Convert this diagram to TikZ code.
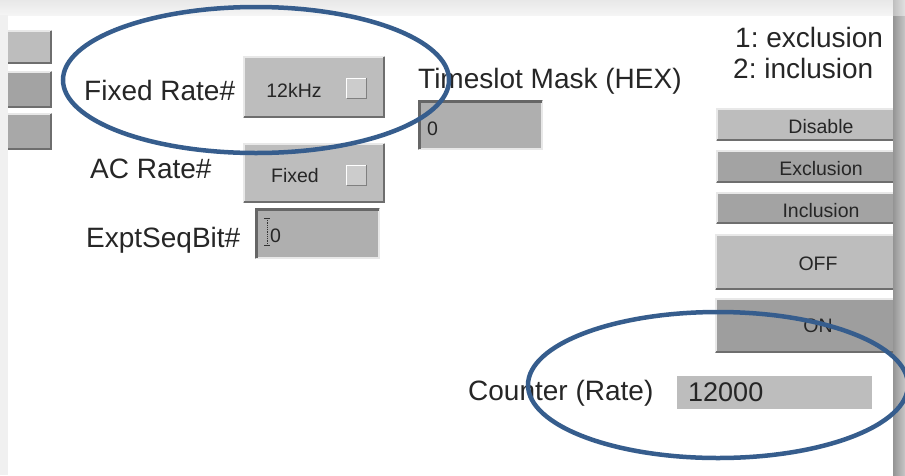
\documentclass[tikz,border=0pt]{standalone}
\usepackage{fontspec}
\setmainfont{Liberation Sans}
\frenchspacing
\usetikzlibrary{calc}
\definecolor{ovalblue}{HTML}{365D8D}
\definecolor{btnlight}{HTML}{BDBDBD}
\definecolor{btndark}{HTML}{A3A3A3}
\definecolor{entryfill}{HTML}{AFAFAF}
\definecolor{hilite}{HTML}{E8E8E8}
\definecolor{shade}{HTML}{6E6E6E}
\tikzset{
  x=1pt, y=-1pt,
  box/.style={rectangle, inner sep=0pt, outer sep=0pt, draw=none},
  btnbox/.style={box, fill=btnlight},
  btnboxd/.style={box, fill=btndark},
  entrybox/.style={box, fill=entryfill},
  hl/.style={draw=hilite, line width=2pt},
  sh/.style={draw=shade, line width=2pt},
  lbl/.style={inner sep=0pt, anchor=base west, font=\fontsize{28}{30}\selectfont, text=black!85},
  btxt/.style={inner sep=0pt, anchor=base, font=\fontsize{19.5}{21}\selectfont, text=black!85},
  oval/.style={draw=ovalblue, line width=4.5pt},
}
\newcommand{\raisedbevel}[1]{%
  \draw[hl] ([shift={(1pt,1pt)}]#1.south west) -- ([shift={(1pt,-1pt)}]#1.north west) -- ([shift={(-1pt,-1pt)}]#1.north east);
  \draw[sh] ([shift={(1pt,1pt)}]#1.south west) -- ([shift={(-1pt,1pt)}]#1.south east) -- ([shift={(-1pt,-1pt)}]#1.north east);}
\newcommand{\sunkenbevel}[1]{%
  \draw[hl] ([shift={(1pt,1pt)}]#1.south west) -- ([shift={(-1pt,1pt)}]#1.south east) -- ([shift={(-1pt,-1pt)}]#1.north east);
  \draw[draw=black!60, line width=3pt] ([shift={(1.5pt,1pt)}]#1.south west) -- ([shift={(1.5pt,-1.5pt)}]#1.north west) -- ([shift={(-1pt,-1.5pt)}]#1.north east);}
\begin{document}
\begin{tikzpicture}
\useasboundingbox (0,0) rectangle (905,475);
% background
\fill[white] (0,0) rectangle (905,475);

% left partial buttons (clipped by the window edge)
\node[btnbox, minimum width=56pt, minimum height=34pt] (lb1) at (24,47) {};
\node[btnboxd, minimum width=56pt, minimum height=37pt] (lb2) at (24,89.5) {};
\node[box, fill=black!34, minimum width=56pt, minimum height=37pt] (lb3) at (24,131.5) {};
\raisedbevel{lb1}\raisedbevel{lb2}\raisedbevel{lb3}

% right buttons (clipped by the window edge)
\node[btnbox, minimum width=195pt, minimum height=33pt] (bdis) at (813.5,124.5) {};
\node[btnboxd, minimum width=195pt, minimum height=33pt] (bexc) at (813.5,166.5) {};
\node[btnboxd, minimum width=195pt, minimum height=32pt] (binc) at (813.5,208) {};
\node[btnbox, minimum width=196pt, minimum height=56pt] (boff) at (813,262) {};
\node[box, fill=black!38, minimum width=196pt, minimum height=55pt] (bon) at (813,325.5) {};
\raisedbevel{bdis}\raisedbevel{bexc}\raisedbevel{binc}\raisedbevel{boff}\raisedbevel{bon}
\node[btxt] (tdis) at (821,133) {Disable};
\node[btxt] (texc) at (821,175) {Exclusion};
\node[btxt] (tinc) at (821,217) {Inclusion};
\node[btxt] (toff) at (818,270) {OFF};
\node[btxt] (ton) at (818,332) {ON};

% window frame
\shade[top color=black!9, bottom color=black!4] (0,0) rectangle (905,15);
\fill[black!6] (0,15) rectangle (8,475);
\shade[left color=black!42, right color=black!22] (893,15) rectangle (905,475);
\shade[left color=black!25, right color=black!12] (893,0) rectangle (905,15);

% Fixed Rate
\node[lbl] (lfr) at (84,100) {Fixed Rate\#};
\node[btnbox, minimum width=142pt, minimum height=62pt] (bfr) at (314,87) {};
\raisedbevel{bfr}
\node[btxt] (tfr) at (294,97) {12kHz};
\node[box, fill=black!20, minimum width=20pt, minimum height=20pt] (sfr) at (356.5,88) {};
\draw[draw=white, line width=1pt] (sfr.south west) -- (sfr.north west) -- (sfr.north east);
\draw[draw=black!50, line width=1pt] (sfr.south west) -- (sfr.south east) -- (sfr.north east);

% AC Rate
\node[lbl] (lac) at (90,178) {AC Rate\#};
\node[btnbox, minimum width=142pt, minimum height=60pt] (bac) at (314,173) {};
\raisedbevel{bac}
\node[btxt] (tac) at (295,182) {Fixed};
\node[box, fill=black!20, minimum width=20pt, minimum height=20pt] (sac) at (356.5,175) {};
\draw[draw=white, line width=1pt] (sac.south west) -- (sac.north west) -- (sac.north east);
\draw[draw=black!50, line width=1pt] (sac.south west) -- (sac.south east) -- (sac.north east);

% ExptSeqBit
\node[lbl] (lex) at (86,247) {ExptSeqBit\#};
\node[entrybox, minimum width=125pt, minimum height=51pt] (eex) at (317.5,233) {};
\sunkenbevel{eex}
\node[btxt, anchor=base west] (tex) at (270,242) {0};
\draw[densely dotted, line width=0.8pt, black!80] (267,218) -- (267,245);
\draw[line width=0.8pt, black!80] (264,218) -- (270,218) (264,245) -- (270,245);

% Timeslot mask
\node[lbl] (lts) at (418,88) {Timeslot Mask (HEX)};
\node[entrybox, minimum width=125pt, minimum height=50pt] (ets) at (480.5,125) {};
\sunkenbevel{ets}
\node[btxt, anchor=base west] (tts) at (427,135) {0};

% legend
\node[lbl] (l1) at (735,47) {1: exclusion};
\node[lbl] (l2) at (733,78) {2: inclusion};

% counter
\node[lbl] (lct) at (468,400) {Counter (Rate)};
\node[box, fill=btnlight, minimum width=195pt, minimum height=33pt] (ect) at (774.5,392.5) {};
\node[lbl, font=\fontsize{27}{29}\selectfont] (tct) at (688,401) {12000};

% highlight ovals
\draw[oval] (256,80) ellipse [x radius=193, y radius=73];
\draw[oval] (718,385) ellipse [x radius=190, y radius=73];
\end{tikzpicture}
\end{document}
